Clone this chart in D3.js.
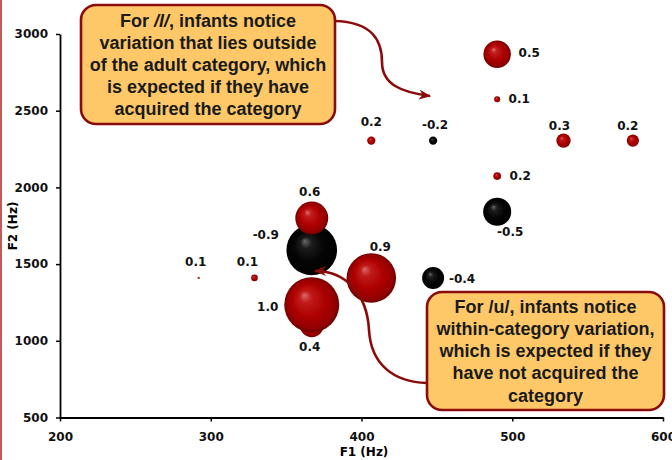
<!DOCTYPE html>
<html><head><meta charset="utf-8">
<script src="https://cdn.jsdelivr.net/npm/d3@7"></script>
<style>
html,body{margin:0;padding:0;background:#fff;}
svg{display:block;}
</style></head>
<body>
<svg id="chart" width="672" height="460"></svg>
<script>
// ---- data (draw order) ----
const f1Values   = [367, 367, 367, 367, 406.5, 447.5, 292, 329, 490, 490, 490, 490, 406.5, 447.5, 534, 580];
const f2Values   = [1100, 1235, 1592, 1800, 1410, 1410, 1410, 1410, 1841, 2074, 2574, 2868, 2305, 2305, 2305, 2305];
const corrLabels = [0.4, 1.0, -0.9, 0.6, 0.9, -0.4, 0.1, 0.1, -0.5, 0.2, 0.1, 0.5, 0.2, -0.2, 0.3, 0.2];
const bubbleSize = [0.43, 1.0, 0.92, 0.6, 0.9, 0.4, 0.04, 0.12, 0.51, 0.14, 0.11, 0.5, 0.15, 0.15, 0.26, 0.22];
const labelOffset = [[-2,22],[-44,2],[-46,-15],[-2,-26],[9,-31],[29,1],[-3,-16],[-7,-16],[13,20],[23,0],[22,0],[32,-1],[0,-19],[2,-16],[-4,-15],[-5,-15]];
const xTicks = [200, 300, 400, 500, 600];
const yTicks = [500, 1000, 1500, 2000, 2500, 3000];
const xTitle = "F1 (Hz)";
const yTitle = "F2 (Hz)";
const callout1 = ["For |/l/|, infants notice", "variation that lies outside", "of the adult category, which", "is expected if they have", "acquired the category"];
const callout2 = ["For /u/, infants notice", "within-category variation,", "which is expected if they", "have not acquired the", "category"];

const svg = d3.select("#chart");
const x = d3.scaleLinear().domain([200, 600]).range([60, 663]);
const y = d3.scaleLinear().domain([500, 3000]).range([417.5, 34]);
const r = d3.scaleLinear().domain([0, 1]).range([0, 27.5]);

const defs = svg.append("defs");
function grad(id, stops) {
  const g = defs.append("radialGradient").attr("id", id)
    .attr("cx", "50%").attr("cy", "50%").attr("r", "50%").attr("fx", "36%").attr("fy", "32%");
  stops.forEach(s => g.append("stop").attr("offset", s[0]).attr("stop-color", s[1]));
}
grad("gRed", [["0%", "#dc6a6a"], ["22%", "#c01a1a"], ["60%", "#ad0000"], ["88%", "#940000"], ["100%", "#6e0000"]]);
grad("gBlack", [["0%", "#6a6a6a"], ["22%", "#1c1c1c"], ["60%", "#050505"], ["100%", "#000"]]);
defs.append("marker").attr("id", "arrow").attr("viewBox", "0 0 12 10")
  .attr("refX", 11).attr("refY", 5).attr("markerWidth", 12).attr("markerHeight", 10)
  .attr("markerUnits", "userSpaceOnUse").attr("orient", "auto")
  .append("path").attr("d", "M0,0 L12,5 L0,10 L3.5,5 Z").attr("fill", "#8b0a0a");

// left edge rule
svg.append("line").attr("x1", 1).attr("x2", 1).attr("y1", 0).attr("y2", 460)
  .attr("stroke", "#b22222").attr("stroke-width", 1.5);

// axes
const fontAxis = "'DejaVu Sans', Verdana, sans-serif";
const gx = svg.append("g").attr("transform", "translate(0,417.5)")
  .call(d3.axisBottom(x).tickValues(xTicks).tickSize(4).tickSizeOuter(0).tickPadding(11).tickFormat(d3.format("d")));
const gy = svg.append("g").attr("transform", "translate(60,0)")
  .call(d3.axisLeft(y).tickValues(yTicks).tickSize(4).tickSizeOuter(0).tickPadding(8).tickFormat(d3.format("d")));
[gx, gy].forEach(g => {
  g.select(".domain").attr("stroke", "#000").attr("stroke-width", 1.8);
  g.selectAll(".tick line").attr("stroke", "#000").attr("stroke-width", 1.5);
  g.selectAll(".tick text").attr("font-family", fontAxis).attr("font-weight", "bold")
    .attr("font-size", 12).attr("fill", "#111");
});
svg.append("text").attr("x", 364).attr("y", 452).attr("text-anchor", "middle")
  .attr("dominant-baseline", "central").attr("font-family", fontAxis).attr("font-weight", "bold")
  .attr("font-size", 12).text(xTitle);
svg.append("text").attr("transform", "translate(13,226) rotate(-90)").attr("text-anchor", "middle")
  .attr("dominant-baseline", "central").attr("font-family", fontAxis).attr("font-weight", "bold")
  .attr("font-size", 12).text(yTitle);

// bubbles
const pts = f1Values.map((f, i) => ({f1: f, f2: f2Values[i], c: corrLabels[i], s: bubbleSize[i], o: labelOffset[i]}));
svg.append("g").selectAll("circle").data(pts).join("circle")
  .attr("cx", d => x(d.f1)).attr("cy", d => y(d.f2)).attr("r", d => r(d.s))
  .attr("fill", d => d.c < 0 ? "url(#gBlack)" : "url(#gRed)");
svg.append("g").selectAll("text").data(pts).join("text")
  .attr("x", d => x(d.f1) + d.o[0]).attr("y", d => y(d.f2) + d.o[1])
  .attr("text-anchor", "middle").attr("dominant-baseline", "central")
  .attr("font-family", fontAxis).attr("font-weight", "bold").attr("font-size", 12).attr("fill", "#111")
  .text(d => d.c.toFixed(1));

// callouts
const fontCall = "'Liberation Sans', Arial, sans-serif";
function callout(lines, bx, by, bw, bh, cx, cy0, lh, path) {
  svg.append("path").attr("d", path).attr("fill", "none").attr("stroke", "#8b0a0a")
    .attr("stroke-width", 2.6).attr("marker-end", "url(#arrow)");
  svg.append("rect").attr("x", bx).attr("y", by).attr("width", bw).attr("height", bh)
    .attr("rx", 15).attr("ry", 15).attr("fill", "#fec868").attr("stroke", "#8b0a0a").attr("stroke-width", 2.6);
  lines.forEach((ln, i) => {
    const t = svg.append("text").attr("x", cx).attr("y", cy0 + i * lh).attr("text-anchor", "middle")
      .attr("dominant-baseline", "central").attr("font-family", fontCall).attr("font-weight", "bold")
      .attr("font-size", 18).attr("fill", "#1a1a1a");
    ln.split("|").forEach((part, k) => {
      t.append("tspan").attr("font-style", k === 1 ? "italic" : "normal").text(part);
    });
  });
}
callout(callout1, 81, 5, 254, 119, 208, 21, 22, "M335,21 C372,22 382,40 382,62 C382,84 400,92 430,96");
callout(callout2, 427, 292, 237, 118, 545.5, 306.5, 22.3, "M427,383 C393,382 371,364 369,330 C367,294 346,271 315,271");
</script>
</body></html>
